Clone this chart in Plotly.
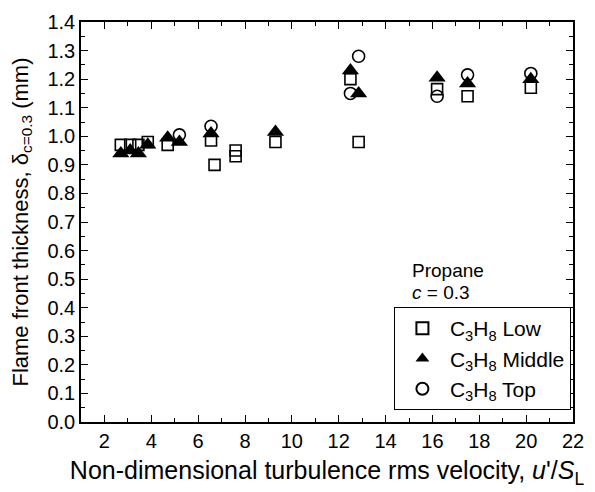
import plotly.graph_objects as go

# Flame front thickness at c = 0.3 versus u'/S_L for propane flames
low_x = [2.7, 3.1, 3.45, 3.85, 4.7, 6.55, 6.7, 7.6, 7.6, 9.3, 12.5, 12.85, 16.2, 17.5, 20.2]
low_y = [0.97, 0.97, 0.97, 0.98, 0.97, 0.985, 0.90, 0.95, 0.93, 0.98, 1.20, 0.98, 1.165, 1.14, 1.17]

mid_x = [2.7, 3.1, 3.45, 3.85, 4.7, 5.2, 6.55, 9.3, 12.5, 12.85, 16.2, 17.5, 20.2]
mid_y = [0.94, 0.95, 0.94, 0.97, 0.995, 0.98, 1.01, 1.015, 1.23, 1.15, 1.205, 1.185, 1.20]

top_x = [5.2, 6.55, 12.5, 12.85, 16.2, 17.5, 20.2]
top_y = [1.005, 1.035, 1.15, 1.28, 1.14, 1.215, 1.22]

x_ticks = list(range(2, 23, 2))
y_ticks = [round(0.1 * i, 1) for i in range(0, 15)]

FONT = "Liberation Sans, Arial, sans-serif"

fig = go.Figure()
fig.add_trace(go.Scatter(
    x=low_x, y=low_y, mode="markers", name="C<sub>3</sub>H<sub>8</sub> Low",
    legendgroup="low",
    marker=dict(symbol="square-open", size=11, color="black", line=dict(width=1.6)),
))
fig.add_trace(go.Scatter(
    x=mid_x, y=mid_y, mode="markers", name="C<sub>3</sub>H<sub>8</sub> Middle",
    legendgroup="mid",
    marker=dict(symbol="triangle-up", size=15, color="black", line=dict(width=0)),
))
fig.add_trace(go.Scatter(
    x=top_x, y=top_y, mode="markers", name="C<sub>3</sub>H<sub>8</sub> Top",
    legendgroup="top",
    marker=dict(symbol="circle-open", size=12, color="black", line=dict(width=1.6)),
))

axis_common = dict(
    showline=True, linecolor="black", linewidth=1.5, mirror="allticks",
    ticks="inside", ticklen=7, tickwidth=1.2, tickcolor="black",
    showgrid=False, zeroline=False,
    tickfont=dict(family=FONT, size=20, color="black"),
)

fig.update_xaxes(
    range=[1, 22], tickvals=x_ticks,
    minor=dict(dtick=1, ticks="inside", ticklen=4, tickcolor="black", tickwidth=1.2),
    title=dict(text="Non-dimensional turbulence rms velocity, <i>u</i>'/<i>S</i><sub>L</sub>",
               font=dict(family=FONT, size=25, color="black"), standoff=11),
    **axis_common,
)
fig.update_yaxes(
    range=[0, 1.4], tickvals=y_ticks, tickformat=".1f",
    minor=dict(dtick=0.05, ticks="inside", ticklen=4, tickcolor="black", tickwidth=1.2),
    title=dict(text="Flame front thickness, δ<sub>c=0.3</sub> (mm)",
               font=dict(family=FONT, size=22, color="black"), standoff=13),
    **axis_common,
)

fig.add_annotation(x=0.668, y=0.378, xref="paper", yref="paper", xanchor="left",
                   yanchor="middle", showarrow=False, text="Propane",
                   font=dict(family=FONT, size=19, color="black"))
fig.add_annotation(x=0.668, y=0.325, xref="paper", yref="paper", xanchor="left",
                   yanchor="middle", showarrow=False, text="<i>c</i> = 0.3",
                   font=dict(family=FONT, size=19, color="black"))

fig.update_layout(
    width=595, height=492,
    margin=dict(l=81, r=11, t=14, b=70),
    paper_bgcolor="white", plot_bgcolor="white",
    font=dict(family=FONT, color="black"),
    legend=dict(
        x=0.636, y=0.03, xanchor="left", yanchor="bottom",
        bordercolor="black", borderwidth=1, bgcolor="white",
        font=dict(family=FONT, size=21, color="black"),
        tracegroupgap=0, itemsizing="constant", itemwidth=45,
    ),
)

fig.write_html("out.html")
